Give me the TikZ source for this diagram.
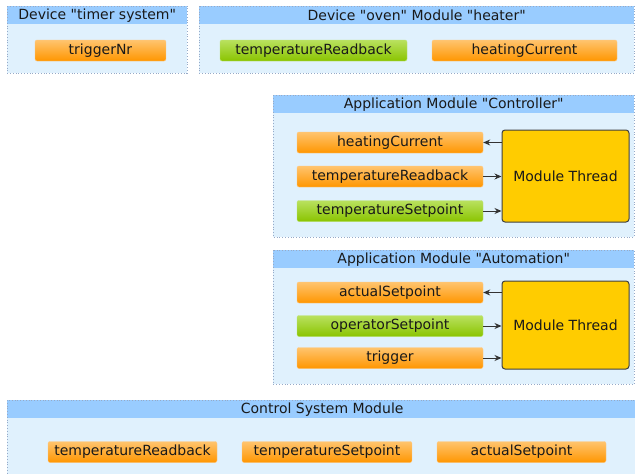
\documentclass[tikz,border=0pt]{standalone}
\usepackage{fontspec}
\setmainfont{DejaVu Sans}
\usetikzlibrary{positioning, arrows.meta}
\definecolor{cabazul}{RGB}{153,204,255}
\definecolor{fondoazul}{RGB}{224,241,253}
\definecolor{bordeazul}{RGB}{150,170,200}
\definecolor{naranja}{RGB}{255,150,0}
\definecolor{naranjamedio}{RGB}{255,168,40}
\definecolor{naranjaclaro}{RGB}{255,196,110}
\definecolor{naranjaborde}{RGB}{255,200,130}
\definecolor{verde}{RGB}{138,196,0}
\definecolor{verdemedio}{RGB}{155,206,30}
\definecolor{verdeclaro}{RGB}{185,225,95}
\definecolor{verdeborde}{RGB}{190,228,120}
\definecolor{amarillo}{RGB}{255,204,0}
\tikzset{flecha/.style={-{Stealth[length=7pt,width=6pt]}, draw=black!80, line width=1pt}}
\tikzset{cabecera/.style={anchor=north west, fill=cabazul, minimum height=18pt}}
\tikzset{borde/.style={draw=bordeazul, dotted, line width=0.8pt}}
\tikzset{naranjo/.style={draw=naranjaborde, rounded corners=2pt, minimum height=21pt,
    top color=naranjaclaro, middle color=naranjamedio, bottom color=naranja}}
\tikzset{verdoso/.style={draw=verdeborde, rounded corners=2pt, minimum height=21pt,
    top color=verdeclaro, middle color=verdemedio, bottom color=verde}}
\tikzset{hilo/.style={draw=black!75, fill=amarillo, rounded corners=3pt, line width=1pt,
    minimum width=127pt}}

\begin{document}
\begin{tikzpicture}[
                x = 1pt, y = -1pt,
                every node/.style={font=\fontsize{14}{16}\selectfont, inner sep=0pt, text=black!90}
            ]
                \useasboundingbox (0,0) rectangle (635,474);

                % device "timer system"
                \fill[fondoazul] (7,6) rectangle (187,73);
                \node[cabecera, minimum width=180pt] (h1) at (7,6) {Device \textquotedbl timer system\textquotedbl};
                \draw[borde] (7,6) rectangle (187,73);
                \node[naranjo, minimum width=131pt] (1) at (100.5,50.5) {triggerNr};

                % device "oven"
                \fill[fondoazul] (199,6) rectangle (634,73);
                \node[cabecera, minimum width=435pt] (h2) at (199,6) {Device \textquotedbl oven\textquotedbl{} Module \textquotedbl heater\textquotedbl};
                \draw[borde] (199,6) rectangle (634,73);
                \node[verdoso, minimum width=187pt] (2) at (313.5,50.5) {temperatureReadback};
                \node[naranjo, minimum width=185pt] (3) at (524.5,50.5) {heatingCurrent};

                % controller
                \fill[fondoazul] (273,95) rectangle (634,237);
                \node[cabecera, minimum width=361pt] (h3) at (273,95) {Application Module \textquotedbl Controller\textquotedbl};
                \draw[borde] (273,95) rectangle (634,237);
                \node[naranjo, minimum width=186pt] (4) at (390,142.5) {heatingCurrent};
                \node[naranjo, minimum width=186pt] (5) at (390,176.5) {temperatureReadback};
                \node[verdoso, minimum width=186pt] (6) at (390,211) {temperatureSetpoint};
                \node[hilo, minimum height=92pt] (7) at (565.5,176) {Module Thread};
                \draw[flecha] (4.east -| 7.west) -- (4.east);
                \draw[flecha] (5.east) -- (5.east -| 7.west);
                \draw[flecha] (6.east) -- (6.east -| 7.west);

                % automation
                \fill[fondoazul] (273,250) rectangle (634,384);
                \node[cabecera, minimum width=361pt] (h4) at (273,250) {Application Module \textquotedbl Automation\textquotedbl};
                \draw[borde] (273,250) rectangle (634,384);
                \node[naranjo, minimum width=186pt] (8) at (390,292.5) {actualSetpoint};
                \node[verdoso, minimum width=186pt] (9) at (390,326) {operatorSetpoint};
                \node[naranjo, minimum width=186pt] (10) at (390,358) {trigger};
                \node[hilo, minimum height=88pt] (11) at (565.5,325) {Module Thread};
                \draw[flecha] (8.east -| 11.west) -- (8.east);
                \draw[flecha] (9.east) -- (9.east -| 11.west);
                \draw[flecha] (10.east) -- (10.east -| 11.west);

                % control system
                \fill[fondoazul] (7,400) rectangle (637,476);
                \node[cabecera, minimum width=630pt] (h5) at (7,400) {Control System Module};
                \draw[borde] (637,400) -- (7,400) -- (7,476);
                \node[naranjo, minimum width=169pt] (12) at (132.5,452) {temperatureReadback};
                \node[naranjo, minimum width=170pt] (13) at (327,452) {temperatureSetpoint};
                \node[naranjo, minimum width=169pt] (14) at (521.5,452) {actualSetpoint};
            \end{tikzpicture}
\end{document}
